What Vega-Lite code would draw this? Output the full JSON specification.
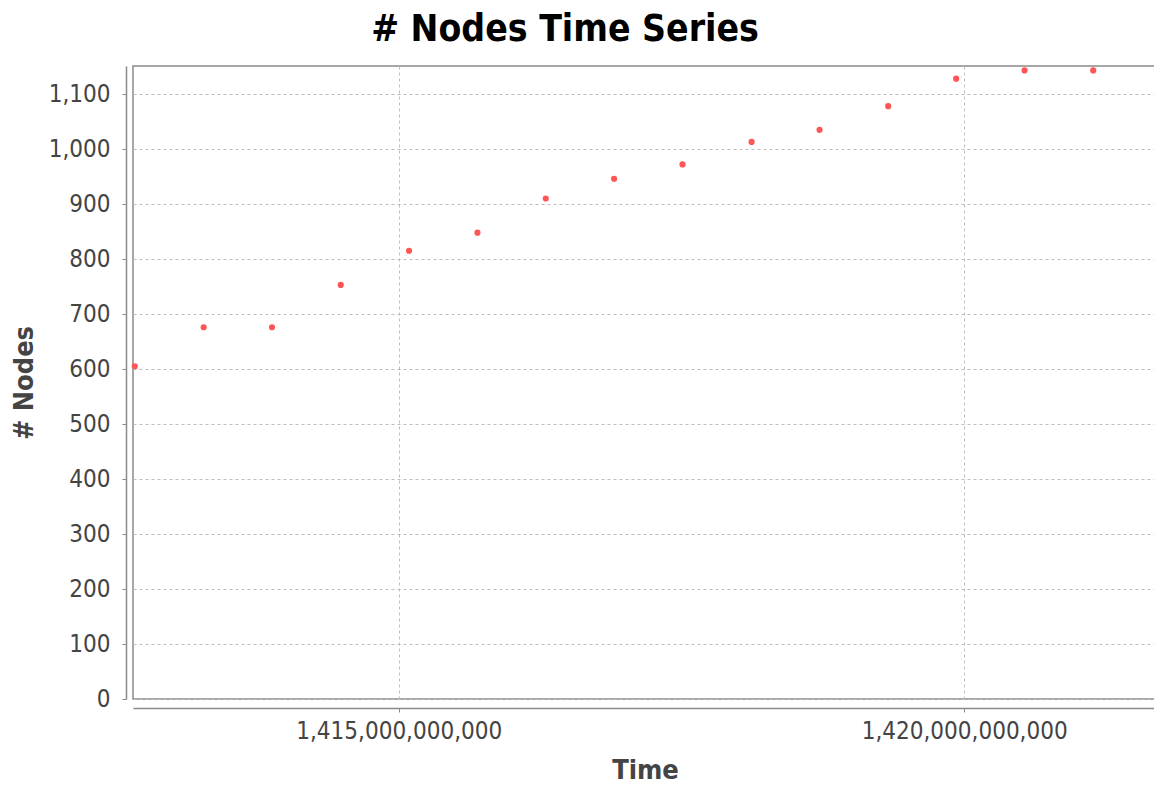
{
  "$schema": "https://vega.github.io/schema/vega-lite/v6.json",
  "width": 1024,
  "height": 633,
  "autosize": {"type": "none"},
  "padding": {"left": 133, "top": 66, "right": -3, "bottom": 89},
  "background": "white",
  "title": {
    "text": "# Nodes Time Series",
    "font": "DejaVu Sans Condensed",
    "fontSize": 37,
    "fontWeight": "bold",
    "color": "#000000",
    "anchor": "middle",
    "dx": -80,
    "dy": 36,
    "baseline": "alphabetic",
    "offset": 24
  },
  "data": {
    "values": [
      {"time": 1412665000000, "nodes": 605},
      {"time": 1413275000000, "nodes": 676},
      {"time": 1413879000000, "nodes": 676},
      {"time": 1414487000000, "nodes": 753},
      {"time": 1415091000000, "nodes": 815},
      {"time": 1415696000000, "nodes": 848},
      {"time": 1416300000000, "nodes": 910},
      {"time": 1416904000000, "nodes": 946},
      {"time": 1417509000000, "nodes": 972},
      {"time": 1418120000000, "nodes": 1013},
      {"time": 1418721000000, "nodes": 1035},
      {"time": 1419328000000, "nodes": 1078},
      {"time": 1419929000000, "nodes": 1128},
      {"time": 1420534000000, "nodes": 1143},
      {"time": 1421141000000, "nodes": 1143}
    ]
  },
  "mark": {"type": "point", "filled": true, "shape": "circle", "size": 38, "color": "#ff5555", "opacity": 1},
  "encoding": {
    "x": {
      "field": "time",
      "type": "quantitative",
      "scale": {"domain": [1412650000000, 1421705000000], "nice": false, "zero": false},
      "axis": {
        "orient": "bottom",
        "offset": 9,
        "values": [1415000000000, 1420000000000],
        "format": ",d",
        "title": "Time",
        "titleFont": "DejaVu Sans Condensed",
        "titleFontSize": 27,
        "titleFontWeight": "bold",
        "titleColor": "#444444",
        "titlePadding": 14,
        "labelFont": "DejaVu Sans Condensed",
        "labelFontSize": 24,
        "labelColor": "#444444",
        "labelPadding": 7,
        "labelLimit": 0,
        "labelFlush": false,
        "tickSize": 4,
        "tickColor": "#888888",
        "domainColor": "#8a8a8a",
        "domainWidth": 1.5,
        "grid": true,
        "gridColor": "#bdbdbd",
        "gridDash": [3, 3],
        "gridWidth": 1
      }
    },
    "y": {
      "field": "nodes",
      "type": "quantitative",
      "scale": {"domain": [0, 1151], "nice": false, "zero": true},
      "axis": {
        "orient": "left",
        "offset": 7,
        "values": [0, 100, 200, 300, 400, 500, 600, 700, 800, 900, 1000, 1100],
        "format": ",d",
        "title": "# Nodes",
        "titleFont": "DejaVu Sans Condensed",
        "titleFontSize": 27,
        "titleFontWeight": "bold",
        "titleColor": "#444444",
        "titlePadding": 10,
        "labelFont": "DejaVu Sans Condensed",
        "labelFontSize": 24,
        "labelColor": "#444444",
        "labelPadding": 12,
        "tickSize": 4,
        "tickColor": "#888888",
        "domainColor": "#8a8a8a",
        "domainWidth": 1.5,
        "grid": true,
        "gridColor": "#bdbdbd",
        "gridDash": [3, 3],
        "gridWidth": 1
      }
    }
  },
  "config": {
    "view": {"stroke": "#8a8a8a", "strokeWidth": 1.5}
  }
}
